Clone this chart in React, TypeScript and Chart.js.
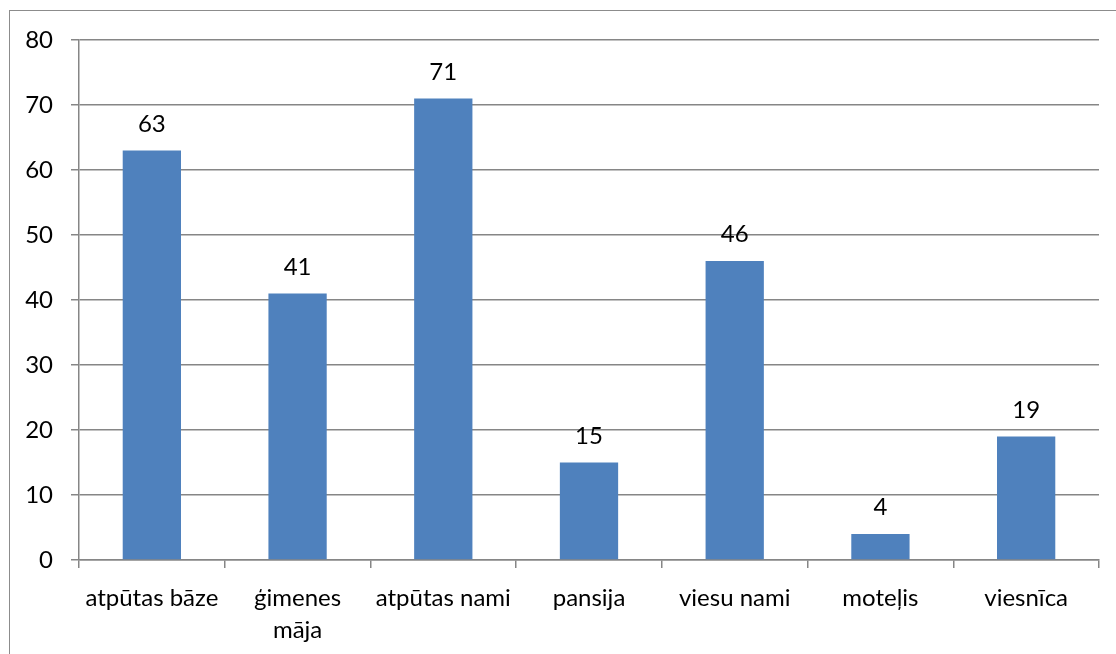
import React, { useEffect, useRef } from "react";
import { Chart, registerables } from "chart.js";

Chart.register(...registerables);

const categories: (string | string[])[] = [
  "atpūtas bāze",
  ["ģimenes", "māja"],
  "atpūtas nami",
  "pansija",
  "viesu nami",
  "moteļis",
  "viesnīca",
];
const values: number[] = [63, 41, 71, 15, 46, 4, 19];
const yMin = 0;
const yMax = 80;
const yStep = 10;

const FONT = "Lato, 'Open Sans', sans-serif";
const FSIZE = 24;

const framePlugin = {
  id: "frame",
  beforeDraw(chart: any) {
    const ctx = chart.ctx;
    ctx.save();
    ctx.fillStyle = "#ffffff";
    ctx.fillRect(0, 0, chart.width, chart.height);
    ctx.strokeStyle = "#8c8c8c";
    ctx.lineWidth = 1;
    ctx.strokeRect(9.5, 10.5, chart.width + 20, chart.height + 20);
    ctx.restore();
  },
};

const labelPlugin = {
  id: "barLabels",
  afterDatasetsDraw(chart: any) {
    const ctx = chart.ctx;
    const meta = chart.getDatasetMeta(0);
    ctx.save();
    ctx.fillStyle = "#000000";
    ctx.font = `${FSIZE}px ${FONT}`;
    ctx.textAlign = "center";
    ctx.textBaseline = "alphabetic";
    meta.data.forEach((bar: any, i: number) => {
      ctx.fillText(String(values[i]), bar.x, bar.y - 19);
    });
    ctx.restore();
  },
};

export default function App() {
  const ref = useRef<HTMLCanvasElement | null>(null);
  useEffect(() => {
    if (!ref.current) return;
    const chart = new Chart(ref.current, {
      type: "bar",
      data: {
        labels: categories,
        datasets: [
          {
            data: values,
            backgroundColor: "#4f81bd",
            borderWidth: 0,
            categoryPercentage: 1,
            barPercentage: 0.4,
          },
        ],
      },
      options: {
        animation: false,
        responsive: false,
        maintainAspectRatio: false,
        layout: { padding: { left: 0, top: 40, right: 17, bottom: 0 } },
        plugins: {
          legend: { display: false },
          tooltip: { enabled: false },
        },
        scales: {
          x: {
            offset: true,
            grid: {
              offset: true,
              drawOnChartArea: false,
              drawTicks: true,
              tickLength: 8,
              color: "#868686",
              lineWidth: 1.5,
            },
            border: { display: true, color: "#868686", width: 1.5 },
            ticks: {
              color: "#000000",
              font: { family: FONT, size: FSIZE, lineHeight: 1.33 },
              padding: 14,
              maxRotation: 0,
              autoSkip: false,
            },
            afterFit(scale: any) {
              scale.height = 94;
            },
          },
          y: {
            min: yMin,
            max: yMax,
            ticks: {
              stepSize: yStep,
              color: "#000000",
              font: { family: FONT, size: FSIZE },
              padding: 18,
            },
            grid: {
              color: "#868686",
              lineWidth: 1.5,
              drawTicks: true,
              tickLength: 8,
            },
            border: { display: true, color: "#868686", width: 1.5 },
            afterFit(scale: any) {
              scale.width = 79;
            },
          },
        },
      },
      plugins: [framePlugin, labelPlugin],
    });
    return () => chart.destroy();
  }, []);
  return (
    <div style={{ position: "absolute", left: 0, top: 0, width: 1116, height: 654 }}>
      <canvas ref={ref} width={1116} height={654} style={{ display: "block" }} />
    </div>
  );
}
